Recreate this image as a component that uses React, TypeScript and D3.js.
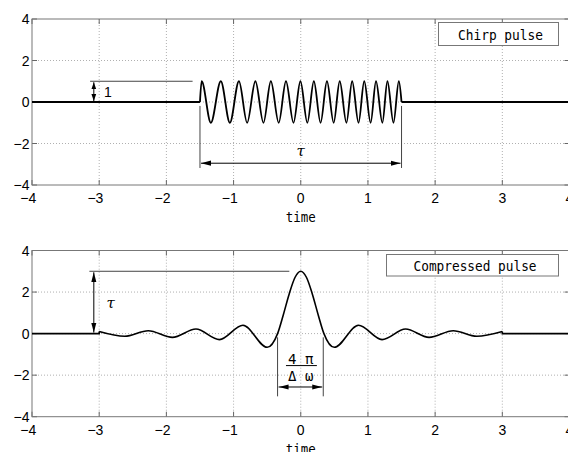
import React from "react";
import * as d3 from "d3";

const W = 568;
const H = 452;

const xTicks = [-4, -3, -2, -1, 0, 1, 2, 3, 4];
const yTicks = [-4, -2, 0, 2, 4];
const xTickLabels = ["\u22124", "\u22123", "\u22122", "\u22121", "0", "1", "2", "3", "4"];
const yTickLabels = ["\u22124", "\u22122", "0", "2", "4"];

// Chirp pulse: extrema (peaks at +1, troughs at -1)
const chirpStart = -1.5;
const chirpEnd = 1.5;
const chirpPeaks = [-1.475, -1.19, -0.92, -0.675, -0.445, -0.22, -0.005, 0.195, 0.39, 0.58, 0.765, 0.945, 1.12, 1.29, 1.46];
const chirpTroughs = [-1.338, -1.055, -0.798, -0.555, -0.328, -0.108, 0.098, 0.295, 0.49, 0.68, 0.86, 1.04, 1.215, 1.38];

// Compressed pulse: sample points
const pulseT = [-3.0, -2.62, -2.27, -1.91, -1.56, -1.21, -0.86, -0.5, -0.345, -0.26, -0.172, -0.086, 0, 0.086, 0.172, 0.26, 0.345, 0.5, 0.86, 1.21, 1.56, 1.91, 2.27, 2.62, 3.0];
const pulseV = [0.1, -0.13, 0.14, -0.18, 0.22, -0.29, 0.4, -0.66, 0, 0.9, 1.91, 2.7, 3, 2.7, 1.91, 0.9, 0, -0.66, 0.4, -0.29, 0.22, -0.18, 0.14, -0.13, 0.1];

const x = d3.scaleLinear().domain([-4, 4]).range([32, 569.5]);
const yTop = d3.scaleLinear().domain([-4, 4]).range([185, 19]);
const yBot = d3.scaleLinear().domain([-4, 4]).range([416.7, 250.5]);

const TICK_FONT = "'Liberation Sans', Arial, sans-serif";
const MONO = "'DejaVu Sans Mono', 'Liberation Mono', monospace";

type Scale = d3.ScaleLinear<number, number>;

function Axes({ y }: { y: Scale }) {
  const [x0, x1] = x.range();
  const [y0, y1] = y.range();
  return (
    <g>
      <rect x={x0} y={y1} width={x1 - x0} height={y0 - y1} fill="#fff" />
      {xTicks.slice(1, -1).map((t) => (
        <line key={"gx" + t} x1={x(t)} x2={x(t)} y1={y0} y2={y1} stroke="#b0b0b0" strokeWidth={1} strokeDasharray="1,2" />
      ))}
      {yTicks.slice(1, -1).map((t) => (
        <line key={"gy" + t} x1={x0} x2={x1} y1={y(t)} y2={y(t)} stroke="#b0b0b0" strokeWidth={1} strokeDasharray="1,2" />
      ))}
      {xTicks.map((t) => (
        <g key={"tx" + t}>
          <line x1={x(t)} x2={x(t)} y1={y0} y2={y0 - 5} stroke="#666" />
          <line x1={x(t)} x2={x(t)} y1={y1} y2={y1 + 5} stroke="#666" />
        </g>
      ))}
      {yTicks.map((t) => (
        <g key={"ty" + t}>
          <line x1={x0} x2={x0 + 5} y1={y(t)} y2={y(t)} stroke="#666" />
          <line x1={x1} x2={x1 - 5} y1={y(t)} y2={y(t)} stroke="#666" />
        </g>
      ))}
      <rect x={x0} y={y1} width={x1 - x0} height={y0 - y1} fill="none" stroke="#777" strokeWidth={1} />
      {xTicks.map((t, i) => {
        const neg = t < 0;
        return (
          <text
            key={"lx" + t}
            x={neg ? x(t) + 4.2 : x(t)}
            y={y0 + 18}
            textAnchor={neg ? "end" : "middle"}
            fontFamily={TICK_FONT}
            fontSize={14}
            fill="#000"
          >
            {xTickLabels[i]}
          </text>
        );
      })}
      {yTicks.map((t, i) => (
        <text key={"ly" + t} x={x0 - 2.5} y={y(t) + 5} textAnchor="end" fontFamily={TICK_FONT} fontSize={14} fill="#000">
          {yTickLabels[i]}
        </text>
      ))}
      <text x={x(0)} y={y0 + 37} textAnchor="middle" fontFamily={MONO} fontSize={14} textLength={30} lengthAdjust="spacingAndGlyphs">
        time
      </text>
    </g>
  );
}

export default function App() {
  const chirpPts: [number, number][] = [[chirpStart, 0]];
  const ext: [number, number][] = [
    ...chirpPeaks.map((t) => [t, 1] as [number, number]),
    ...chirpTroughs.map((t) => [t, -1] as [number, number]),
  ].sort((a, b) => a[0] - b[0]);
  chirpPts.push(...ext, [chirpEnd, 0]);

  const lineTop = d3.line<[number, number]>().x((d) => x(d[0])).y((d) => yTop(d[1])).curve(d3.curveMonotoneX);
  const lineTopLin = d3.line<[number, number]>().x((d) => x(d[0])).y((d) => yTop(d[1]));
  const lineBot = d3.line<[number, number]>().x((d) => x(d[0])).y((d) => yBot(d[1])).curve(d3.curveMonotoneX);
  const lineBotLin = d3.line<[number, number]>().x((d) => x(d[0])).y((d) => yBot(d[1]));

  const pulsePts: [number, number][] = pulseT.map((t, i) => [t, pulseV[i]]);

  return (
    <svg width={W} height={H} style={{ position: "absolute", left: 0, top: 0, background: "#fff" }}>
      <defs>
        <marker id="ah" viewBox="0 -3 10 6" refX={10} refY={0} markerWidth={10} markerHeight={6} markerUnits="userSpaceOnUse" orient="auto-start-reverse">
          <path d="M0,-2.6 L10,0 L0,2.6 Z" fill="#000" />
        </marker>
        <marker id="ahs" viewBox="0 -3 7 6" refX={7} refY={0} markerWidth={7} markerHeight={6} markerUnits="userSpaceOnUse" orient="auto-start-reverse">
          <path d="M0,-2.4 L7,0 L0,2.4 Z" fill="#000" />
        </marker>
      </defs>
      <rect width={W} height={H} fill="#fff" />

      {/* Top panel */}
      <Axes y={yTop} />
      <path d={lineTopLin([[-4, 0], [chirpStart, 0]]) || ""} fill="none" stroke="#000" strokeWidth={1.8} />
      <path d={lineTopLin([[chirpEnd, 0], [4, 0]]) || ""} fill="none" stroke="#000" strokeWidth={1.8} />
      <path d={lineTop(chirpPts) || ""} fill="none" stroke="#000" strokeWidth={1.8} strokeLinejoin="round" />
      {/* amplitude annotation */}
      <line x1={x(-3.135)} x2={x(-1.61)} y1={yTop(1)} y2={yTop(1)} stroke="#444" strokeWidth={1} />
      <line x1={x(-3.08)} x2={x(-3.08)} y1={yTop(1) + 1} y2={yTop(0) - 1} stroke="#000" strokeWidth={1} markerStart="url(#ahs)" markerEnd="url(#ahs)" />
      <text x={x(-2.87)} y={yTop(0.5) + 5} textAnchor="middle" fontFamily={TICK_FONT} fontSize={14}>1</text>
      {/* duration annotation */}
      <line x1={x(-1.5)} x2={x(-1.5)} y1={yTop(-0.19)} y2={yTop(-3.18)} stroke="#444" strokeWidth={1} />
      <line x1={x(1.5)} x2={x(1.5)} y1={yTop(-0.19)} y2={yTop(-3.18)} stroke="#444" strokeWidth={1} />
      <line x1={x(-1.5) + 1} x2={x(1.5) - 1} y1={yTop(-2.95)} y2={yTop(-2.95)} stroke="#000" strokeWidth={1} markerStart="url(#ah)" markerEnd="url(#ah)" />
      <text x={x(0)} y={yTop(-2.4) + 4} textAnchor="middle" fontFamily="'DejaVu Serif', serif" fontStyle="italic" fontSize={15}>τ</text>
      {/* legend */}
      <rect x={438.5} y={22.5} width={120} height={23} fill="#fff" stroke="#777" strokeWidth={1} />
      <text x={500.5} y={39.5} textAnchor="middle" fontFamily={MONO} fontSize={14} textLength={85} lengthAdjust="spacingAndGlyphs">Chirp pulse</text>

      {/* Bottom panel */}
      <Axes y={yBot} />
      <path d={lineBotLin([[-4, 0], [-3, 0], [-3, pulseV[0]]]) || ""} fill="none" stroke="#000" strokeWidth={1.6} />
      <path d={lineBotLin([[3, pulseV[pulseV.length - 1]], [3, 0], [4, 0]]) || ""} fill="none" stroke="#000" strokeWidth={1.6} />
      <path d={lineBot(pulsePts) || ""} fill="none" stroke="#000" strokeWidth={1.6} strokeLinejoin="round" />
      {/* peak annotation */}
      <line x1={x(-3.146)} x2={x(-0.17)} y1={yBot(3)} y2={yBot(3)} stroke="#444" strokeWidth={1} />
      <line x1={x(-3.08)} x2={x(-3.08)} y1={yBot(3) + 1} y2={yBot(0) - 1} stroke="#000" strokeWidth={1} markerStart="url(#ah)" markerEnd="url(#ah)" />
      <text x={x(-2.83)} y={yBot(1.45) + 5} textAnchor="middle" fontFamily="'DejaVu Serif', serif" fontStyle="italic" fontSize={15}>τ</text>
      {/* width annotation */}
      <line x1={x(-0.345)} x2={x(-0.345)} y1={yBot(-0.18)} y2={yBot(-3.02)} stroke="#444" strokeWidth={1} />
      <line x1={x(0.335)} x2={x(0.335)} y1={yBot(-0.18)} y2={yBot(-3.02)} stroke="#444" strokeWidth={1} />
      <line x1={x(-0.345) + 1} x2={x(0.335) - 1} y1={yBot(-2.57)} y2={yBot(-2.57)} stroke="#000" strokeWidth={1} markerStart="url(#ah)" markerEnd="url(#ah)" />
      <text x={x(0)} y={yBot(-1.22) + 5} textAnchor="middle" fontFamily={MONO} fontSize={14}>4 π</text>
      <line x1={x(-0.22)} x2={x(0.24)} y1={yBot(-1.54)} y2={yBot(-1.54)} stroke="#000" strokeWidth={1} />
      <text x={x(0)} y={yBot(-2.06) + 5} textAnchor="middle" fontFamily={MONO} fontSize={14}>Δ ω</text>
      {/* legend */}
      <rect x={386.5} y={254.5} width={172} height={21.5} fill="#fff" stroke="#777" strokeWidth={1} />
      <text x={475} y={270.5} textAnchor="middle" fontFamily={MONO} fontSize={14} textLength={123} lengthAdjust="spacingAndGlyphs">Compressed pulse</text>
    </svg>
  );
}
